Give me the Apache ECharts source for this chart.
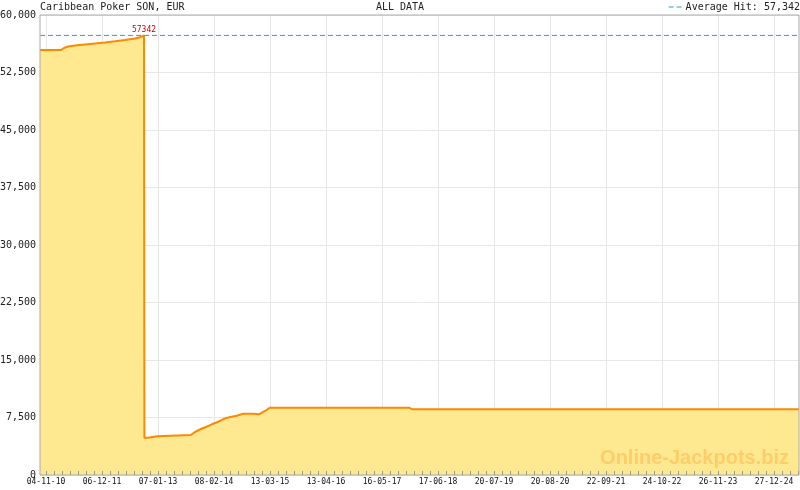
<!DOCTYPE html>
<html>
<head>
<meta charset="utf-8">
<script src="https://cdn.jsdelivr.net/npm/echarts@6/dist/echarts.min.js"></script>
<style>
html,body{margin:0;padding:0;background:#fff;}
#chart{width:800px;height:490px;}
</style>
</head>
<body>
<div id="chart"></div>
<script>
// ---- data (x in tick-step units: 0 = first date label, 7 units between labels) ----
const chartTitle = 'Caribbean Poker SON, EUR';
const rangeTitle = 'ALL DATA';
const tickLabels = ['04-11-10','06-12-11','07-01-13','08-02-14','13-03-15','13-04-16','16-05-17',
                    '17-06-18','20-07-19','20-08-20','22-09-21','24-10-22','26-11-23','27-12-24'];
const xPos = [-0.75, 1.875, 2.25, 2.75, 3.625, 4.875, 6.125, 7.375, 8.625, 9.875, 11.125, 11.875, 12.25,
              12.3, 12.75, 12.8, 13.9, 13.95, 18.09,
              18.625, 19.25, 20.09, 20.71, 21.54, 22.375, 23.21, 23.84, 24.66, 25.91, 26.125, 26.625,
              27.375, 28, 45.375, 45.75, 94.125];
const jackpot = [55435, 55435, 55696, 55892, 56022, 56152, 56283, 56413, 56570, 56739, 56935, 57130, 57342,
                 4865, 4865, 5048, 5048, 5217, 5217,
                 5609, 5961, 6300, 6613, 6952, 7395, 7604, 7735, 7995, 7995, 7917, 7917,
                 8348, 8778, 8778, 8583, 8583];
const averageHit = 57342;
const yTicks = {min: 0, max: 60000, step: 7500};
const xRange = {min: -0.75, max: 94.125};

const mono = 'DejaVu Sans Mono';
const series = xPos.map((x, i) => [x, jackpot[i]]);
const avgName = 'Average Hit: ' + averageHit.toLocaleString('en-US');

const chart = echarts.init(document.getElementById('chart'), null, {renderer: 'canvas'});
const tickGrid = {left: 46, right: -30, top: 15, bottom: 15, show: false, outerBoundsMode: 'none', containLabel: false};
chart.setOption({
  animation: false,
  backgroundColor: '#ffffff',
  title: [
    {text: chartTitle, left: 40, top: 2, padding: 0, textStyle: {fontFamily: mono, fontSize: 10, fontWeight: 'normal', color: '#222'}},
    {text: rangeTitle, left: 'center', top: 2, padding: 0, textStyle: {fontFamily: mono, fontSize: 10, fontWeight: 'normal', color: '#222'}}
  ],
  legend: {
    data: [{name: avgName, icon: 'path://M0,0h5v1h-5zM8,0h5v1h-5z'}],
    right: 0, top: 2, itemWidth: 13, itemHeight: 1, itemGap: 0, padding: 0,
    textStyle: {fontFamily: mono, fontSize: 10, color: '#222', padding: [0, 0, 0, -1]}
  },
  grid: [
    {left: 40, right: 1, top: 15, bottom: 15, show: true, borderColor: '#aaaaaa', borderWidth: 1,
     backgroundColor: 'transparent', z: 5, outerBoundsMode: 'none', containLabel: false},
    Object.assign({}, tickGrid),
    Object.assign({}, tickGrid)
  ],
  xAxis: [
    {gridIndex: 0, type: 'value', min: xRange.min, max: xRange.max, show: false, position: 'bottom'},
    {gridIndex: 1, type: 'value', min: 0, max: 98, interval: 7, z: 0, position: 'bottom',
     axisLine: {show: false}, axisTick: {show: false}, axisLabel: {show: false},
     splitLine: {show: true, lineStyle: {color: '#e8e8e8', width: 1}}},
    {gridIndex: 2, type: 'value', min: 0, max: 98, interval: 7, z: 6, position: 'bottom',
     axisLine: {show: false},
     axisTick: {show: true, inside: true, length: 4, lineStyle: {color: '#999', width: 1}},
     minorTick: {show: true, splitNumber: 7, length: 4, lineStyle: {color: '#999', width: 1}},
     splitLine: {show: false},
     axisLabel: {show: true, margin: 3, fontFamily: mono, fontSize: 8, color: '#111',
       formatter: v => { const i = v / 7; return Number.isInteger(i) && tickLabels[i] ? tickLabels[i] : ''; }}}
  ],
  yAxis: [
    {gridIndex: 0, type: 'value', min: yTicks.min, max: yTicks.max, interval: yTicks.step, z: 0,
     axisLine: {show: false}, axisTick: {show: false},
     splitLine: {show: true, lineStyle: {color: '#e8e8e8', width: 1}},
     axisLabel: {margin: 4, fontFamily: mono, fontSize: 10, color: '#222',
       formatter: v => v.toLocaleString('en-US')}},
    {gridIndex: 1, type: 'value', min: yTicks.min, max: yTicks.max, show: false},
    {gridIndex: 2, type: 'value', min: yTicks.min, max: yTicks.max, show: false}
  ],
  graphic: [
    {type: 'text', z: 3, silent: true,
     style: {text: 'Online-Jackpots.biz', x: 789, y: 458, align: 'right', verticalAlign: 'middle',
       font: 'bold 20px "Liberation Sans", Arial, sans-serif', fill: '#ffcc6a'}}
  ],
  series: [
    {type: 'line', name: chartTitle, xAxisIndex: 0, yAxisIndex: 0, data: series,
     symbol: 'none', z: 2,
     lineStyle: {color: '#ff8800', width: 2},
     areaStyle: {color: '#ffe990', opacity: 1},
     itemStyle: {color: '#ff8800'},
     markPoint: {symbol: 'circle', symbolSize: 0, silent: true,
       data: [{type: 'max'}],
       label: {show: true, position: 'top', distance: 1, formatter: p => String(p.value),
         fontFamily: mono, fontSize: 8, color: '#cc0000'}}},
    {type: 'line', name: avgName, xAxisIndex: 0, yAxisIndex: 0,
     data: [[xRange.min, averageHit], [xRange.max, averageHit]],
     symbol: 'none', z: 4,
     lineStyle: {color: '#3399cc', width: 1, type: [5, 3]},
     itemStyle: {color: '#3399cc'}}
  ]
});
</script>
</body>
</html>
